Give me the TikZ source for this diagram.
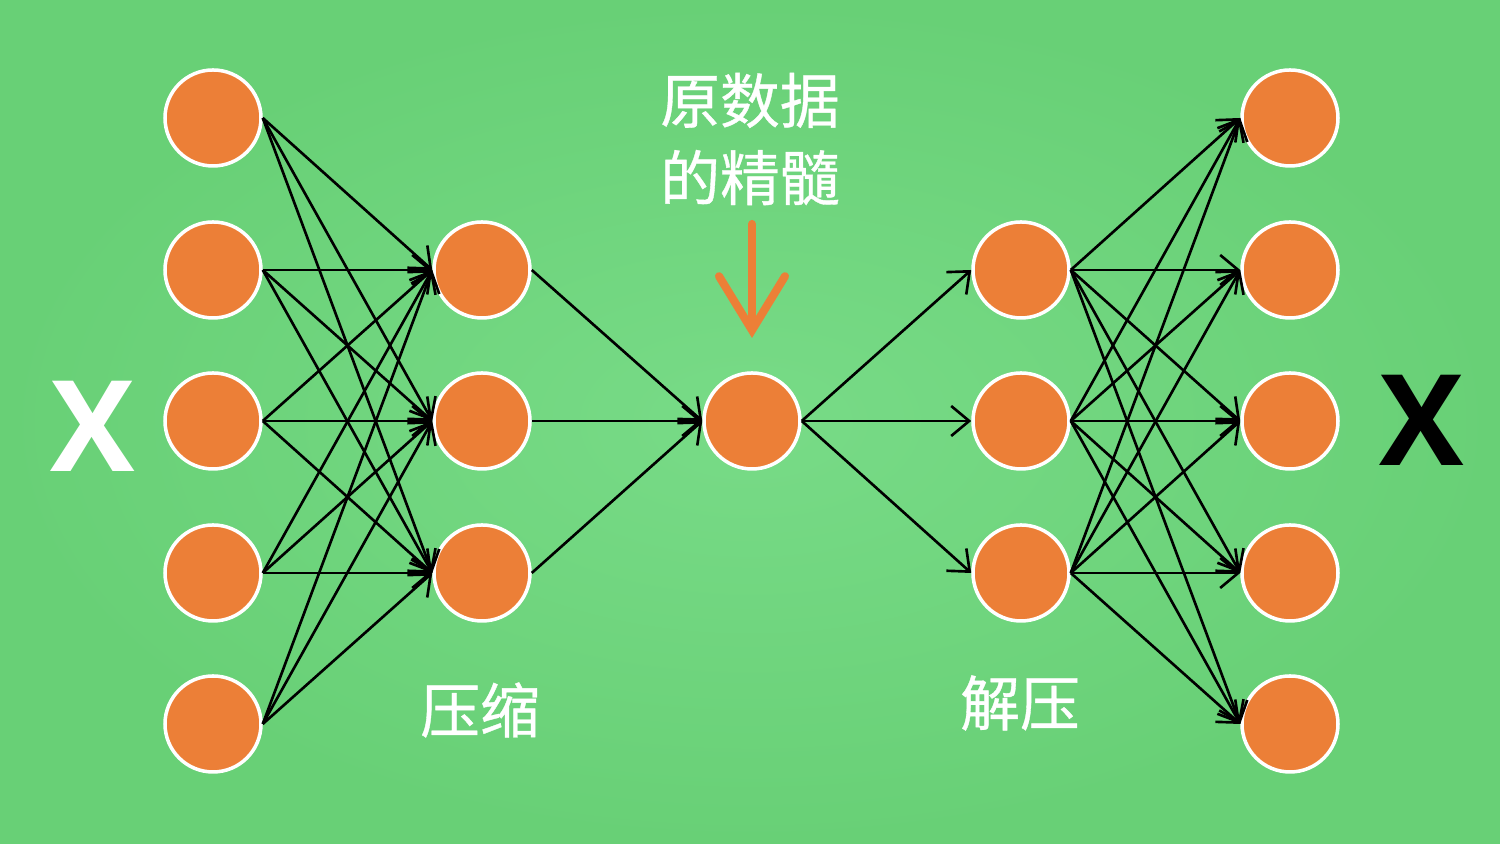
\documentclass[tikz,border=0pt]{standalone}
\usepackage{fontspec}
\newfontfamily\cjk[FakeBold=0.6]{Noto Sans CJK SC}
\newfontfamily\xfont{Open Sans}
\usepackage{xcolor}
\usetikzlibrary{arrows.meta, calc, positioning}
\definecolor{bggreen}{RGB}{120,219,135}
\definecolor{bgedge}{RGB}{104,208,118}
\definecolor{neuron}{RGB}{236,127,55}
\tikzset{
    unit/.style={circle, draw=white, line width=1pt, fill=neuron, minimum size=0.96cm, inner sep=0pt},
    link/.style={-{Straight Barb[length=1.8mm, width=3mm]}, line width=0.75pt, black},
    pointer/.style={-{Straight Barb[length=5.4mm, width=6.6mm, line cap=round]}, line width=2.3pt, neuron, line cap=round},
    label/.style={text=white, font=\cjk\fontsize{17pt}{22pt}\selectfont, align=center},
    bigx/.style={font=\xfont\bfseries\fontsize{36pt}{40pt}\selectfont},
}
\begin{document}
\begin{tikzpicture}
    \useasboundingbox (0,0) rectangle (15,8.44);
    \shade[inner color=bggreen, outer color=bgedge] (0,0) rectangle (15,8.44);
    % input layer
    \node[unit] (in1) at (2.13,7.26) {};
    \node[unit] (in2) at (2.13,5.74) {};
    \node[unit] (in3) at (2.13,4.23) {};
    \node[unit] (in4) at (2.13,2.71) {};
    \node[unit] (in5) at (2.13,1.20) {};
    % encoder
    \node[unit] (enc1) at (4.82,5.74) {};
    \node[unit] (enc2) at (4.82,4.23) {};
    \node[unit] (enc3) at (4.82,2.71) {};
    % code
    \node[unit] (code) at (7.52,4.23) {};
    % decoder
    \node[unit] (dec1) at (10.21,5.74) {};
    \node[unit] (dec2) at (10.21,4.23) {};
    \node[unit] (dec3) at (10.21,2.71) {};
    % output layer
    \node[unit] (out1) at (12.90,7.26) {};
    \node[unit] (out2) at (12.90,5.74) {};
    \node[unit] (out3) at (12.90,4.23) {};
    \node[unit] (out4) at (12.90,2.71) {};
    \node[unit] (out5) at (12.90,1.20) {};
    % connections
    \foreach \i in {1,...,5} {
        \foreach \j in {1,2,3} {
            \draw[link] (in\i.east) -- (enc\j.west);
            \draw[link] (dec\j.east) -- (out\i.west);
        }
    }
    \foreach \j in {1,2,3} {
        \draw[link] (enc\j.east) -- (code.west);
        \draw[link] (code.east) -- (dec\j.west);
    }
    % labels
    \node[label] (essence) at (7.50,7.05) {原数据\\的精髓};
    \coordinate (ptop) at (7.52,6.20);
    \coordinate (ptip) at (7.52,5.06);
    \draw[pointer] (ptop) -- (ptip);
    \node[label] (squeeze) at (4.80,1.34) {压缩};
    \node[label] (unsqueeze) at (10.20,1.41) {解压};
    \node[bigx, text=white] (xin) at (0.93,4.18) {X};
    \node[bigx, text=black] (xout) at (14.22,4.24) {X};
\end{tikzpicture}
\end{document}
